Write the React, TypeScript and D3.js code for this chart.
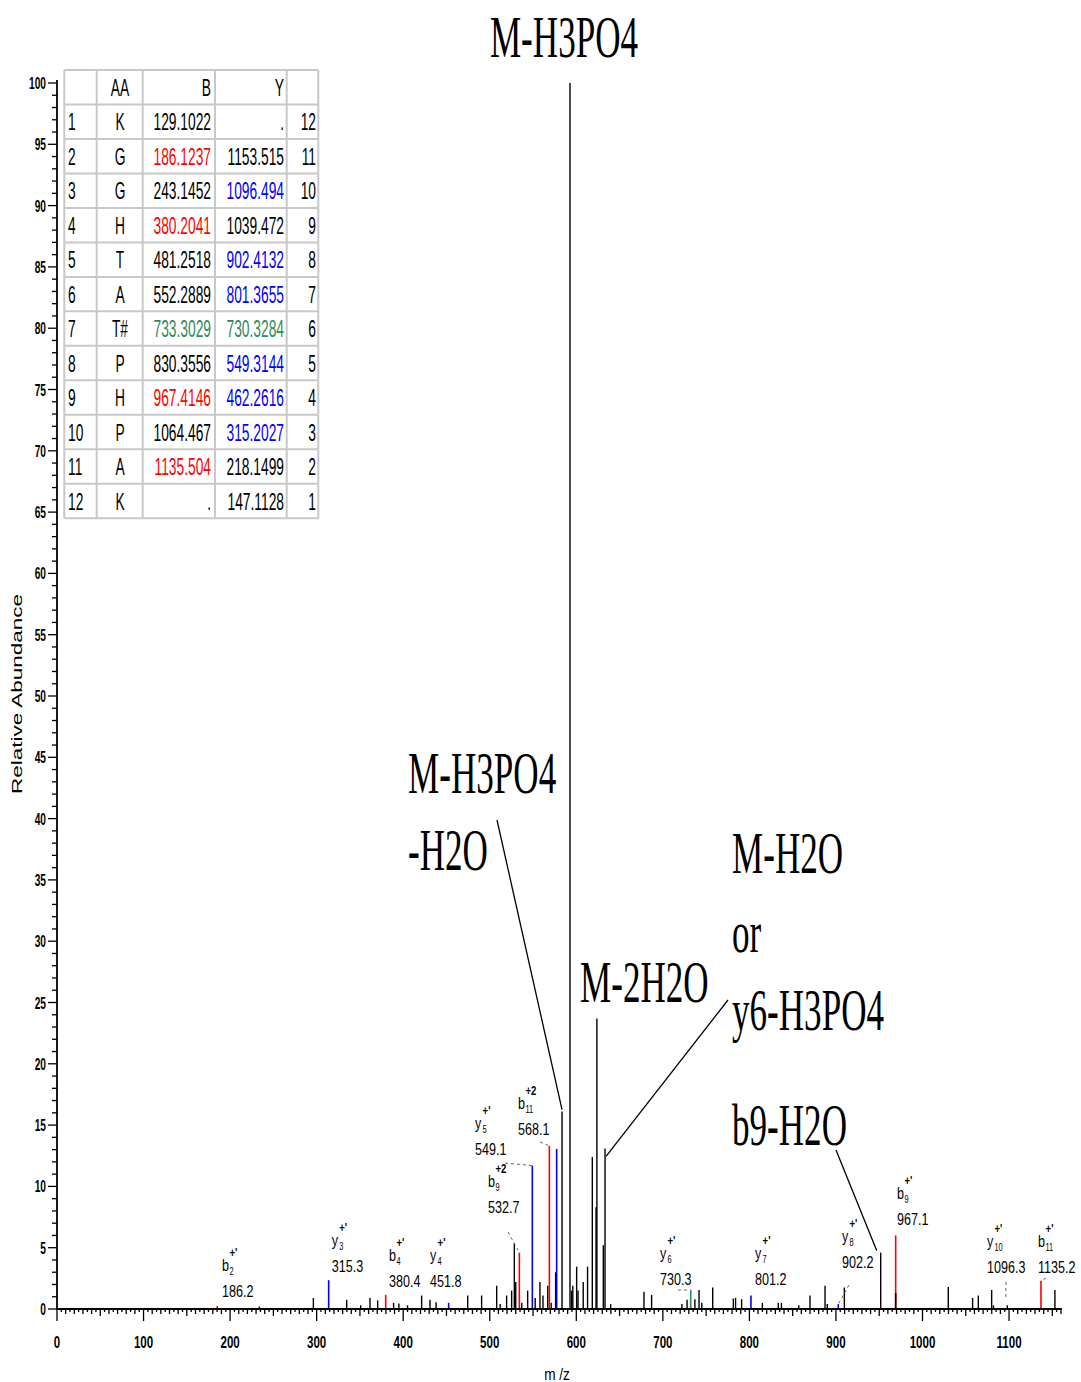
import React from "react";
import * as d3 from "d3";

// ---- spectrum peaks: [m/z, relative abundance] ----
const blackPeaks: [number, number][] = [
  [233.8, 0.2], [296.2, 0.9], [334.7, 0.75], [350.9, 0.3], [361.6, 0.9], [370.5, 0.7],
  [388.9, 0.5], [395, 0.45], [405, 0.3], [421.3, 1.1], [431, 0.75], [438, 0.55],
  [474.5, 1.1], [490.6, 1.1], [508, 1.9], [512, 0.4], [519.5, 1.1], [525.3, 1.5],
  [528.4, 5.35], [530, 2.2], [537, 0.5], [543.8, 1.5], [552.5, 0.9], [558, 2.2],
  [561.5, 1.1], [567, 1.9], [571, 0.5], [576.1, 3.0], [583.5, 16.1], [592.7, 100],
  [594.6, 1.5], [596, 1.9], [600.4, 3.45], [602, 1.5], [608, 2.2], [613, 3.45],
  [618.5, 12.4], [622.8, 8.3], [623.8, 23.7], [631.2, 5.2], [633.2, 13.1], [639.7, 0.4],
  [678.2, 1.4], [687, 1.15], [722, 0.4], [728, 0.75], [737, 0.8], [741.8, 1.55],
  [745, 0.5], [757.6, 1.75], [781.4, 0.85], [784, 0.9], [791, 0.8], [815, 0.5],
  [833.4, 0.5], [837, 0.5], [857, 0.3], [870, 1.1], [887.4, 1.9], [890, 0.4],
  [909.7, 1.75], [951.7, 4.6], [1029.8, 1.8], [1057.9, 0.9], [1064.5, 1.1],
  [1079.9, 1.55], [1082, 0.3], [1098, 0.3], [1153, 1.55],
];
const bIonPeaks: [number, number][] = [
  [185.2, 0.25], [379.8, 1.15], [534.2, 4.6], [568.9, 13.3], [969, 6.0], [1136.9, 2.3],
];
const yIonPeaks: [number, number][] = [
  [313.9, 2.35], [452.5, 0.5], [549.2, 11.7], [577.3, 13.05], [801.8, 1.1], [902.7, 0.4],
];
const phosphoPeaks: [number, number][] = [[732.2, 1.55]];
// low black peaks that sit under the coloured b ions
const overlapPeaks: [number, number][] = [[969, 1.3]];

// ---- fragment labels ----
const ionLetter = ["b", "y", "b", "y", "b", "y", "b", "y", "y", "y", "b", "y", "b"];
const ionIndex = ["2", "3", "4", "4", "9", "5", "11", "6", "7", "8", "9", "10", "11"];
const ionCharge = ["+'", "+'", "+'", "+'", "+2", "+'", "+2", "+'", "+'", "+'", "+'", "+'", "+'"];
const ionMz = ["186.2", "315.3", "380.4", "451.8", "532.7", "549.1", "568.1", "730.3", "801.2", "902.2", "967.1", "1096.3", "1135.2"];
// label anchors (left edge m/z, baseline abundance) and optional dashed leaders
const labelLayout: { at: [number, number]; lead?: { from: [number, number]; to: [number, number] } }[] = [
  { at: [190.6, 0.98] },
  { at: [317.4, 3.02] },
  { at: [383.6, 1.79] },
  { at: [431.0, 1.79] },
  { at: [498.0, 7.83], lead: { from: [20, 19], to: [534.2, 4.6] } },
  { at: [483.0, 12.56], lead: { from: [30, 8], to: [549.2, 11.7] } },
  { at: [532.6, 14.19], lead: { from: [22, 7], to: [568.9, 13.3] } },
  { at: [696.7, 1.96], lead: { from: [18, 5], to: [732.2, 1.55] } },
  { at: [806.5, 1.96] },
  { at: [907.0, 3.34], lead: { from: [7, 17], to: [902.7, 0.4] } },
  { at: [970.5, 6.85] },
  { at: [1074.5, 2.94], lead: { from: [19, 9], to: [1096.3, 0.9] } },
  { at: [1133.5, 2.94], lead: { from: [8, 5], to: [1136.9, 2.3] } },
];

// ---- neutral loss annotations ----
const lossText = ["M-H3PO4", "M-H3PO4", "-H2O", "M-2H2O", "M-H2O", "or", "y6-H3PO4", "b9-H2O"];

// ---- fragment table ----
const residueNo = ["1", "2", "3", "4", "5", "6", "7", "8", "9", "10", "11", "12"];
const aminoAcids = ["K", "G", "G", "H", "T", "A", "T#", "P", "H", "P", "A", "K"];
const bIons = ["129.1022", "186.1237", "243.1452", "380.2041", "481.2518", "552.2889", "733.3029", "830.3556", "967.4146", "1064.467", "1135.504", "."];
const yIons = [".", "1153.515", "1096.494", "1039.472", "902.4132", "801.3655", "730.3284", "549.3144", "462.2616", "315.2027", "218.1499", "147.1128"];
const yNo = ["12", "11", "10", "9", "8", "7", "6", "5", "4", "3", "2", "1"];
const bMatch = ["", "r", "", "r", "", "", "g", "", "r", "", "r", ""];
const yMatch = ["", "", "b", "", "b", "b", "g", "b", "b", "b", "", ""];

const RED = "#ff0000";
const BLUE = "#0000ff";
const GREEN = "#2e8b57";
const SANS = "'Liberation Sans', Arial, sans-serif";
const SERIF = "'Liberation Serif', 'Times New Roman', serif";

const matchColor = (m: string) => (m === "r" ? RED : m === "b" ? BLUE : m === "g" ? GREEN : "#000");

function T(props: {
  x: number; y: number; size: number; sx?: number; anchor?: string; fill?: string;
  family?: string; weight?: string; children: React.ReactNode;
}) {
  const { x, y, size, sx = 1, anchor = "start", fill = "#000", family = SANS, weight = "normal", children } = props;
  return (
    <text transform={`translate(${x},${y}) scale(${sx},1)`} fontSize={size} textAnchor={anchor}
      fill={fill} fontFamily={family} fontWeight={weight}>{children}</text>
  );
}

export default function App() {
  const W = 1081, H = 1382;
  const x = d3.scaleLinear().domain([0, 1161]).range([57, 57 + 1161 * 0.8655]);
  const y = d3.scaleLinear().domain([0, 100]).range([1309, 83]);

  const xMinor = d3.range(0, 1161, 5);
  const yMinor = d3.range(0, 101, 1);
  const xMajor = d3.range(0, 1101, 100);
  const yMajor = d3.range(0, 101, 5);

  const peakLine = (p: [number, number], color: string, i: number, w = 1.4) => (
    <line key={color + i} x1={x(p[0])} x2={x(p[0])} y1={y(0)} y2={y(p[1])} stroke={color} strokeWidth={w} />
  );

  const rowTop = (i: number) => 70 + i * 34.48;
  const colX = [64.3, 96.7, 142.7, 215, 286.7, 318.3];

  return (
    <svg width={W} height={H} style={{ position: "absolute", left: 0, top: 0, background: "#fff" }}>
      <rect width={W} height={H} fill="#fff" />

      {/* peaks */}
      <g>
        {blackPeaks.map((p, i) => peakLine(p, "#000", i))}
        {bIonPeaks.map((p, i) => peakLine(p, RED, i, 1.6))}
        {yIonPeaks.map((p, i) => peakLine(p, BLUE, i, 1.6))}
        {phosphoPeaks.map((p, i) => peakLine(p, GREEN, i, 1.6))}
        {overlapPeaks.map((p, i) => peakLine(p, "#000", 100 + i, 1.6))}
      </g>

      {/* x axis */}
      <g stroke="#000">
        <line x1={x(0)} x2={x(1161)} y1={y(0)} y2={y(0)} strokeWidth={1.8} />
        {xMinor.map((v) => {
          const len = v % 100 === 0 ? 12 : v % 50 === 0 ? 7 : v % 10 === 0 ? 5 : 3;
          return <line key={v} x1={x(v)} x2={x(v)} y1={y(0)} y2={y(0) + len} strokeWidth={1.3} />;
        })}
      </g>
      {xMajor.map((v) => (
        <T key={v} x={x(v)} y={1348} size={16.5} sx={0.7} anchor="middle" weight="bold">{v}</T>
      ))}
      <T x={557} y={1380} size={17} sx={0.8} anchor="middle">m /z</T>

      {/* y axis */}
      <g stroke="#000">
        <line x1={x(0)} x2={x(0)} y1={y(0)} y2={80} strokeWidth={1.8} />
        {yMinor.map((v) => {
          const len = v % 5 === 0 ? 9 : 5;
          return <line key={v} x1={x(0) - len} x2={x(0)} y1={y(v)} y2={y(v)} strokeWidth={1.3} />;
        })}
      </g>
      {yMajor.map((v) => (
        <T key={v} x={46} y={y(v) + 6} size={17} sx={0.6} anchor="end" weight="bold">{v}</T>
      ))}
      <text transform={`translate(22,694) rotate(-90) scale(1.5,1)`} fontSize={15} textAnchor="middle"
        fontFamily={SANS}>Relative Abundance</text>

      {/* fragment labels */}
      {labelLayout.map((l, i) => {
        const lx = x(l.at[0]);
        const ly = y(l.at[1]);
        const lead = l.lead;
        const symW = 7.5;
        return (
          <g key={"lab" + i}>
            <T x={lx} y={ly} size={17} sx={0.74}>{ionMz[i]}</T>
            <T x={lx} y={ly - 26} size={17} sx={0.74}>{ionLetter[i]}</T>
            <T x={lx + symW} y={ly - 22} size={10} sx={0.74}>{ionIndex[i]}</T>
            <T x={lx + symW} y={ly - 40} size={12} sx={0.8} weight="bold">{ionCharge[i]}</T>
            {lead && (
              <line x1={lx + lead.from[0]} y1={ly + lead.from[1]} x2={x(lead.to[0])} y2={y(lead.to[1])}
                stroke="#666" strokeWidth={1} strokeDasharray="3,3" />
            )}
          </g>
        );
      })}

      {/* neutral loss annotations */}
      <g stroke="#000" strokeWidth={1.3}>
        <line x1={497} y1={820} x2={x(583.5)} y2={y(16.1) - 2} />
        <line x1={728} y1={1000} x2={x(633.2) + 1} y2={y(13.1) + 8} />
        <line x1={836} y1={1150} x2={x(951.7) - 4} y2={y(4.6) - 2} />
      </g>
      <T x={564} y={57} size={60} sx={0.585} anchor="middle" family={SERIF}>{lossText[0]}</T>
      <T x={408} y={793} size={60} sx={0.585} family={SERIF}>{lossText[1]}</T>
      <T x={408} y={870} size={60} sx={0.585} family={SERIF}>{lossText[2]}</T>
      <T x={580} y={1002} size={60} sx={0.585} family={SERIF}>{lossText[3]}</T>
      <T x={732} y={873} size={60} sx={0.585} family={SERIF}>{lossText[4]}</T>
      <T x={732} y={952} size={60} sx={0.585} family={SERIF}>{lossText[5]}</T>
      <T x={732} y={1030} size={60} sx={0.585} family={SERIF}>{lossText[6]}</T>
      <T x={732} y={1145} size={60} sx={0.585} family={SERIF}>{lossText[7]}</T>

      {/* fragment table */}
      <g>
        <rect x={colX[0]} y={rowTop(0)} width={colX[5] - colX[0]} height={rowTop(13) - rowTop(0)} fill="#fff" />
        <g stroke="#c8c8c8" strokeWidth={2}>
          {d3.range(14).map((r) => (
            <line key={"h" + r} x1={colX[0]} x2={colX[5]} y1={rowTop(r)} y2={rowTop(r)} />
          ))}
          {colX.map((c, k) => (
            <line key={"v" + k} x1={c} x2={c} y1={rowTop(0)} y2={rowTop(13)} />
          ))}
        </g>
        <T x={120} y={rowTop(0) + 26} size={23} sx={0.6} anchor="middle">AA</T>
        <T x={211} y={rowTop(0) + 26} size={23} sx={0.6} anchor="end">B</T>
        <T x={284} y={rowTop(0) + 26} size={23} sx={0.6} anchor="end">Y</T>
        {residueNo.map((n, i) => {
          const by = rowTop(i + 1) + 26;
          return (
            <g key={"row" + i}>
              <T x={68} y={by} size={23} sx={0.6}>{n}</T>
              <T x={120} y={by} size={23} sx={0.6} anchor="middle">{aminoAcids[i]}</T>
              <T x={211} y={by} size={23} sx={0.6} anchor="end" fill={matchColor(bMatch[i])}>{bIons[i]}</T>
              <T x={284} y={by} size={23} sx={0.6} anchor="end" fill={matchColor(yMatch[i])}>{yIons[i]}</T>
              <T x={316} y={by} size={23} sx={0.6} anchor="end">{yNo[i]}</T>
            </g>
          );
        })}
      </g>
    </svg>
  );
}
